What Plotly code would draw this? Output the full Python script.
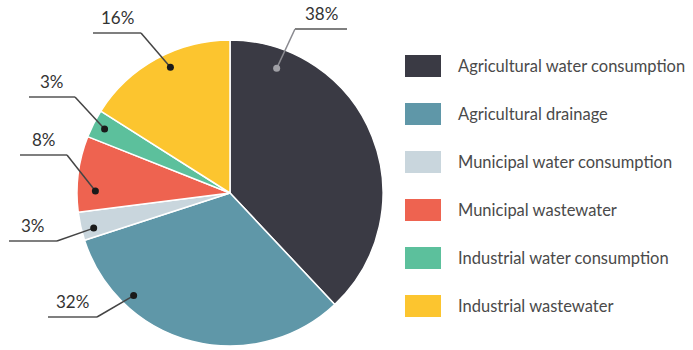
import math
import plotly.graph_objects as go

labels = ["Agricultural water consumption", "Agricultural drainage",
          "Municipal water consumption", "Municipal wastewater",
          "Industrial water consumption", "Industrial wastewater"]
values = [38, 32, 3, 8, 3, 16]
colors = ["#3a3a44", "#5f97a8", "#c9d6dd", "#ee6350", "#5cc09c", "#fcc52f"]

# layout (pixels) -------------------------------------------------------
W, H = 693, 350
CX, CY, R = 230, 193, 153
# dot placement: fraction inside slice, fraction of radius
dot_frac = [0.15, 0.75, 0.33, 0.28, 0.5, 0.56]
dot_rad = [0.87, 0.92, 0.92, 0.88, 0.92, 0.91]
# underline: (x_start, x_end, y), leader attaches at side
under = [(295, 347, 29, "start"), (48, 97, 317, "end"), (9, 57, 241, "end"),
         (20, 67, 155, "end"), (29, 75, 97, "end"), (93, 141, 33, "end")]

fig = go.Figure()
fig.add_trace(go.Pie(
    labels=labels, values=values, sort=False, direction="clockwise",
    rotation=0, marker=dict(colors=colors, line=dict(color="white", width=1.5)),
    textinfo="none", hoverinfo="label+percent", showlegend=False,
    domain=dict(x=[(CX - R) / W, (CX + R) / W],
                y=[1 - (CY + R) / H, 1 - (CY - R) / H]),
))

shapes = []
annotations = []
total = sum(values)
cum = 0
for i, v in enumerate(values):
    a0 = cum / total * 360
    a1 = (cum + v) / total * 360
    cum += v
    ang = math.radians(a0 + (a1 - a0) * dot_frac[i])
    dx = CX + R * dot_rad[i] * math.sin(ang)
    dy = CY - R * dot_rad[i] * math.cos(ang)
    x0, x1, uy, side = under[i]
    ax = x0 if side == "start" else x1
    lc = "#8a8a90" if i == 0 else "#444444"
    dc = "#a0a0a6" if i == 0 else "#1a1a1a"
    shapes.append(dict(type="line", xref="x", yref="y", x0=x0, x1=x1, y0=uy, y1=uy,
                       line=dict(color="#555555", width=1.5), layer="above"))
    shapes.append(dict(type="line", xref="x", yref="y", x0=ax, x1=dx, y0=uy, y1=dy,
                       line=dict(color=lc, width=1.5), layer="above"))
    rr = 3.5
    shapes.append(dict(type="circle", xref="x", yref="y", x0=dx - rr, x1=dx + rr,
                       y0=dy - rr, y1=dy + rr, fillcolor=dc, line=dict(width=0),
                       layer="above"))
    annotations.append(dict(x=(x0 + x1) / 2, y=uy - 3, xref="x", yref="y",
                            text=f"{v}%", showarrow=False, yanchor="bottom",
                            font=dict(size=17, color="#333333")))

# legend
LX, LY0, LDY = 405, 66, 48
for i, (lab, col) in enumerate(zip(labels, colors)):
    y = LY0 + i * LDY
    shapes.append(dict(type="rect", xref="x", yref="y", x0=LX, x1=LX + 36,
                       y0=y - 11, y1=y + 11, fillcolor=col, line=dict(width=0)))
    annotations.append(dict(x=456, y=y, xref="x", yref="y", text=lab,
                            showarrow=False, xanchor="left", yanchor="middle",
                            font=dict(size=16.5, color="#4a4a4a")))

fig.update_layout(
    width=W, height=H, margin=dict(l=0, r=0, t=0, b=0),
    paper_bgcolor="white", plot_bgcolor="rgba(0,0,0,0)",
    font=dict(family="Lato, sans-serif"),
    xaxis=dict(range=[0, W], visible=False, fixedrange=True),
    yaxis=dict(range=[H, 0], visible=False, fixedrange=True),
    shapes=shapes, annotations=annotations, showlegend=False,
)
fig.write_html("out.html")
